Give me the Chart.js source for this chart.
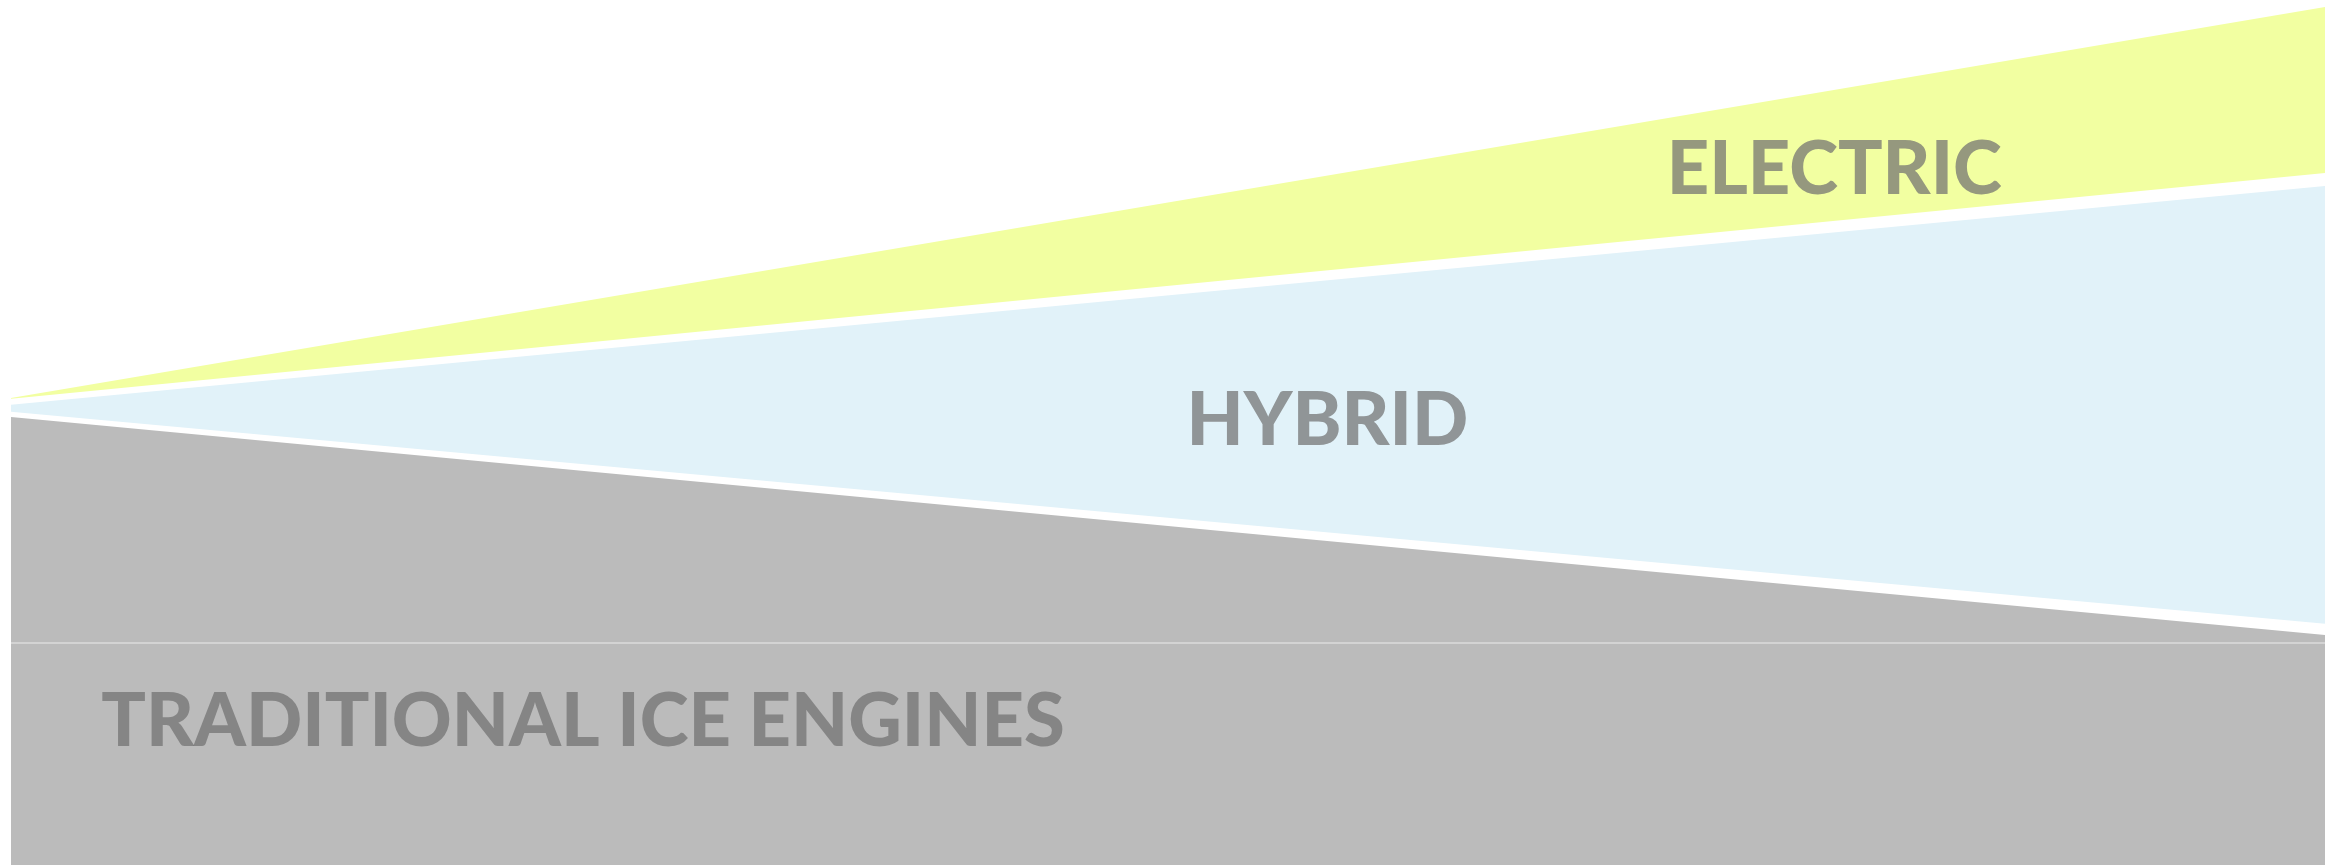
<!DOCTYPE html>
<html>
<head>
<meta charset="utf-8">
<script src="https://cdn.jsdelivr.net/npm/chart.js@4.4.0/dist/chart.umd.min.js"></script>
<style>
  html, body { margin: 0; padding: 0; background: #ffffff; }
  #wrap { width: 2338px; height: 865px; position: relative; }
</style>
</head>
<body>
<div id="wrap"><canvas id="chartShift"></canvas></div>
<script>
// 두 시점 (좌: 현재, 우: 미래) - 값은 그림에서 읽은 누적 높이(%)
const periods = ['Now', 'Future'];
const iceTop = [51.8, 26.6];
const hybridLow = [52.4, 27.9];
const hybridHigh = [53.2, 78.5];
const electricLow = [53.9, 80.0];
const electricHigh = [54.0, 99.2];
const gridValue = 25.7;

const bandLabels = [
  { text: 'ELECTRIC', fx: 0.7155, fy: 0.197 },
  { text: 'HYBRID', fx: 0.508, fy: 0.487 },
  { text: 'TRADITIONAL ICE ENGINES', fx: 0.039, fy: 0.835 }
];

// 밴드 위 텍스트
const bandLabelPlugin = {
  id: 'bandLabels',
  afterDatasetsDraw(chart) {
    const { ctx, chartArea } = chart;
    ctx.save();
    ctx.font = '900 74px Lato';
    ctx.fillStyle = 'rgba(112, 112, 112, 0.72)';
    ctx.textAlign = 'left';
    ctx.textBaseline = 'middle';
    bandLabels.forEach(l => {
      const x = chartArea.left + l.fx * (chartArea.right - chartArea.left);
      const y = chartArea.top + l.fy * (chartArea.bottom - chartArea.top);
      ctx.fillText(l.text, x, y);
    });
    ctx.restore();
  }
};

const band = (data, color, fill) => ({
  data: data,
  backgroundColor: color,
  borderWidth: 0,
  pointRadius: 0,
  tension: 0,
  fill: fill
});

new Chart(document.getElementById('chartShift'), {
  type: 'line',
  data: {
    labels: periods,
    datasets: [
      band(iceTop, '#bbbbbb', 'origin'),
      band(hybridLow, 'rgba(0,0,0,0)', false),
      band(hybridHigh, '#e1f2f9', '-1'),
      band(electricLow, 'rgba(0,0,0,0)', false),
      band(electricHigh, '#f2ffa1', '-1')
    ]
  },
  options: {
    responsive: true,
    maintainAspectRatio: false,
    animation: false,
    layout: { padding: { left: 11, right: 13, top: 0, bottom: 0 } },
    plugins: {
      legend: { display: false },
      tooltip: { enabled: false }
    },
    scales: {
      x: {
        display: false,
        offset: false
      },
      y: {
        min: 0,
        max: 100,
        afterBuildTicks: scale => { scale.ticks = [{ value: gridValue }]; },
        ticks: { display: false },
        border: { display: false },
        grid: { color: '#d3d3d3', lineWidth: 2, drawTicks: false, z: 1 }
      }
    }
  },
  plugins: [bandLabelPlugin]
});
</script>
</body>
</html>
